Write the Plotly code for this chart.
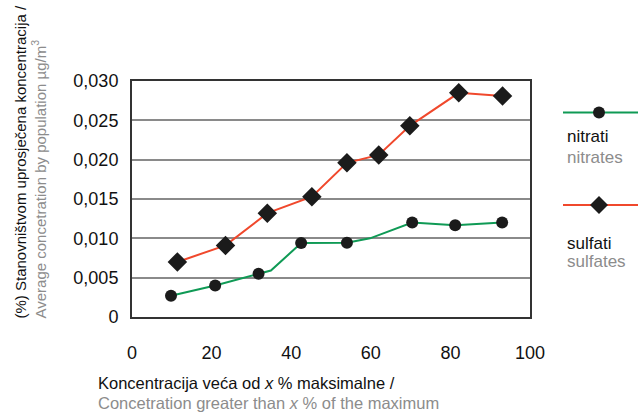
import plotly.graph_objects as go

# nitrati / nitrates (line also bends at two unmarked points)
nitrate_x = [9.8, 20.9, 31.8, 34.9, 42.5, 54.0, 59.8, 70.4, 81.2, 93.0]
nitrate_y = [0.0027, 0.0040, 0.0055, 0.0059, 0.0094, 0.00945, 0.0100, 0.0120, 0.01165, 0.0120]
nitrate_marked = [True, True, True, False, True, True, False, True, True, True]

# sulfati / sulfates
sulfate_x = [11.4, 23.5, 34.0, 45.2, 54.0, 62.0, 69.8, 82.1, 93.1]
sulfate_y = [0.0070, 0.0091, 0.0132, 0.0153, 0.0196, 0.0206, 0.0243, 0.0285, 0.0281]

x_ticks = [0, 20, 40, 60, 80, 100]
y_ticks = [0, 0.005, 0.010, 0.015, 0.020, 0.025, 0.030]
y_ticktext = ["0", "0,005", "0,010", "0,015", "0,020", "0,025", "0,030"]

green = "#0f9a55"
red = "#f0482c"
dark = "#1b1b1b"
grey_text = "#8c8c8c"
font = "Liberation Sans, Arial, sans-serif"

W, H = 638, 412
L, R, T, B = 132, 530, 81, 317


def px(x):
    return (x - L) / (R - L)


def py(y):
    return (B - y) / (B - T)


fig = go.Figure()

fig.add_trace(go.Scatter(x=nitrate_x, y=nitrate_y, mode="lines",
                         line=dict(color=green, width=2), showlegend=False))
fig.add_trace(go.Scatter(
    x=[x for x, m in zip(nitrate_x, nitrate_marked) if m],
    y=[y for y, m in zip(nitrate_y, nitrate_marked) if m],
    mode="markers", marker=dict(color=dark, size=12, symbol="circle", opacity=1),
    showlegend=False, cliponaxis=False))

fig.add_trace(go.Scatter(
    x=sulfate_x, y=sulfate_y, mode="lines+markers",
    line=dict(color=red, width=2),
    marker=dict(color=dark, size=15, symbol="diamond"),
    showlegend=False, cliponaxis=False))

fig.update_xaxes(range=[0, 100], tickvals=x_ticks, showgrid=False, zeroline=False,
                 showline=True, mirror=True, linecolor="#333333", linewidth=2,
                 ticks="outside", ticklen=18, tickcolor="rgba(0,0,0,0)",
                 tickfont=dict(size=18, color="#111111", family=font))
fig.update_yaxes(range=[0, 0.030], tickvals=y_ticks, ticktext=y_ticktext,
                 showgrid=True, gridcolor="#8a8a8a", gridwidth=2, zeroline=False,
                 showline=True, mirror=True, linecolor="#333333", linewidth=2,
                 ticks="outside", ticklen=8, tickcolor="rgba(0,0,0,0)",
                 tickfont=dict(size=18, color="#111111", family=font))

shapes = []
annotations = []

# custom legend on the right
for yline, col, sym in [(112.5, green, "circle"), (205, red, "diamond")]:
    shapes.append(dict(type="line", xref="paper", yref="paper",
                       x0=px(563), x1=px(638), y0=py(yline), y1=py(yline),
                       line=dict(color=col, width=2)))
    if sym == "circle":
        shapes.append(dict(type="circle", xref="paper", yref="paper",
                           xsizemode="pixel", ysizemode="pixel",
                           xanchor=px(599), yanchor=py(yline),
                           x0=-6, x1=6, y0=-6, y1=6,
                           fillcolor=dark, line=dict(width=0)))
    else:
        shapes.append(dict(type="path", xref="paper", yref="paper",
                           xsizemode="pixel", ysizemode="pixel",
                           xanchor=px(599), yanchor=py(yline),
                           path="M -9 0 L 0 9 L 9 0 L 0 -9 Z",
                           fillcolor=dark, line=dict(width=0)))

for text, ypos, col in [("nitrati", 136, "#111111"), ("nitrates", 157, grey_text),
                        ("sulfati", 243, "#111111"), ("sulfates", 261, grey_text)]:
    annotations.append(dict(text=text, xref="paper", yref="paper", x=px(565), y=py(ypos),
                            xanchor="left", yanchor="middle", showarrow=False,
                            font=dict(size=17, color=col, family=font)))

# x axis title (two lines)
annotations.append(dict(text="Koncentracija veća od <i>x</i> % maksimalne /", xref="paper", yref="paper",
                        x=px(96), y=py(383), xanchor="left", yanchor="middle", showarrow=False,
                        font=dict(size=16.5, color="#111111", family=font)))
annotations.append(dict(text="Concetration greater than <i>x</i> % of the maximum", xref="paper", yref="paper",
                        x=px(96), y=py(403), xanchor="left", yanchor="middle", showarrow=False,
                        font=dict(size=16.5, color=grey_text, family=font)))

# y axis title (two rotated lines)
annotations.append(dict(text="(%) Stanovništvom uprosječena koncentracija /", xref="paper", yref="paper",
                        x=px(20), y=py(321), xanchor="center", yanchor="bottom", textangle=-90,
                        showarrow=False, font=dict(size=15, color="#111111", family=font)))
annotations.append(dict(text="Average concetration by population µg/m<sup>3</sup>", xref="paper", yref="paper",
                        x=px(39), y=py(321), xanchor="center", yanchor="bottom", textangle=-90,
                        showarrow=False, font=dict(size=15, color=grey_text, family=font)))

fig.update_layout(
    width=W, height=H,
    margin=dict(l=L, r=W - R, t=T, b=H - B),
    paper_bgcolor="white", plot_bgcolor="white",
    shapes=shapes, annotations=annotations,
    font=dict(family=font),
)

fig.write_html("out.html", config={"displayModeBar": False},
               post_script="document.body.style.margin='0';")
